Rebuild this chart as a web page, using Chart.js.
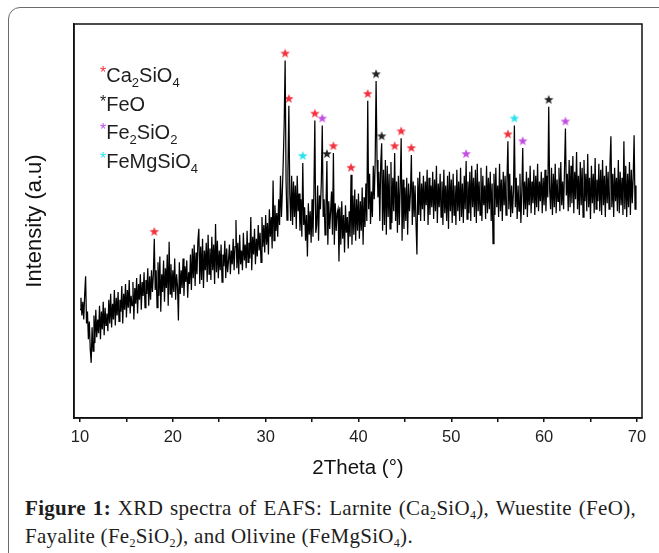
<!DOCTYPE html>
<html>
<head>
<meta charset="utf-8">
<script src="https://cdn.jsdelivr.net/npm/chart.js@4.4.1/dist/chart.umd.min.js"></script>
<style>
  html, body { margin: 0; padding: 0; background: #fff; }
  body { width: 659px; height: 553px; position: relative; overflow: hidden; }
  #frame { position: absolute; left: 8px; top: 7px; width: 670px; height: 620px; border: 1px solid #6b6b6b; border-radius: 12px; }
  #chart { position: absolute; left: 0; top: 0; }
  .legend { position: absolute; left: 100px; font-family: "Liberation Sans", Arial, sans-serif; font-size: 20px; line-height: 28.5px; color: #1e1e1e; white-space: nowrap; }
  .legend sub { font-size: 13px; line-height: 0; vertical-align: -5px; }
  .legend .st { font-size: 16px; vertical-align: 4px; }
  .caption { position: absolute; left: 25px; width: 611px; font-family: "Liberation Serif", "Times New Roman", serif; font-size: 21px; letter-spacing: 0.3px; line-height: 28px; color: #1e1e1e; white-space: nowrap; }
  .caption sub { font-size: 12px; line-height: 0; vertical-align: -4px; }
  #cap1 { top: 494px; text-align: justify; text-align-last: justify; }
  #cap2 { top: 522px; }
</style>
</head>
<body>
<div id="frame"></div>
<canvas id="chart" width="659" height="490"></canvas>

<div class="legend" style="top:59px"><span class="st" style="color:#f2333f">*</span>Ca<sub>2</sub>SiO<sub>4</sub></div>
<div class="legend" style="top:87.5px"><span class="st" style="color:#222">*</span>FeO</div>
<div class="legend" style="top:116px"><span class="st" style="color:#c24fe0">*</span>Fe<sub>2</sub>SiO<sub>2</sub></div>
<div class="legend" style="top:144.5px"><span class="st" style="color:#2fe3ee">*</span>FeMgSiO<sub>4</sub></div>

<div class="caption" id="cap1"><b>Figure 1:</b> XRD spectra of EAFS: Larnite (Ca<sub>2</sub>SiO<sub>4</sub>), Wuestite (FeO),</div>
<div class="caption" id="cap2">Fayalite (Fe<sub>2</sub>SiO<sub>2</sub>), and Olivine (FeMgSiO<sub>4</sub>).</div>

<script>
// intensity (a.u. ~ pixels), 0.1 deg steps, one row per degree
const STEP = 0.1;
const i10 = [110, 122, 104, 118, 100, 125, 144, 96, 108, 80,
             98, 70, 56, 92, 68, 104, 76, 110, 82, 100,
             86, 114, 80, 108, 90, 118, 84, 112, 94, 106,
             88, 120, 96, 126, 92, 116, 100, 130, 94, 122,
             104, 128, 98, 120, 108, 134, 96, 126, 110, 136,
             102, 130, 112, 140, 106, 124, 114, 138, 100, 132,
             116, 142, 106, 136, 120, 146, 110, 138, 124, 148,
             112, 140, 126, 152, 114, 144, 120, 150, 128, 146,
             182, 130, 150, 112, 158, 124, 164, 108, 146, 128,
             160, 118, 152, 132, 166, 114, 179, 126, 156, 122];
const i20 = [150, 128, 162, 120, 146, 134, 99, 158, 126, 150,
             132, 162, 124, 154, 138, 160, 122, 148, 136, 166,
             130, 172, 142, 176, 134, 168, 146, 180, 192, 136,
             174, 140, 182, 132, 170, 150, 178, 138, 186, 146,
             172, 140, 184, 150, 176, 136, 197, 148, 180, 142,
             170, 150, 176, 138, 166, 154, 180, 142, 172, 148,
             160, 176, 146, 170, 156, 182, 150, 174, 201, 152,
             178, 146, 186, 156, 170, 150, 188, 160, 176, 152,
             190, 158, 178, 162, 204, 150, 184, 166, 192, 156,
             182, 164, 196, 170, 188, 158, 204, 174, 196, 168];
const i30 = [206, 176, 198, 166, 212, 184, 204, 172, 241, 180,
             216, 190, 208, 184, 222, 196, 246, 204, 230, 262,
             300, 363, 240, 201, 250, 317, 228, 200, 246, 196,
             240, 204, 236, 192, 246, 210, 228, 190, 222, 184,
             259, 196, 214, 180, 206, 164, 218, 186, 210, 178,
             222, 184, 230, 302, 188, 196, 236, 180, 226, 212,
             240, 297, 204, 222, 186, 214, 261, 176, 220, 192,
             210, 230, 186, 269, 176, 218, 190, 208, 212, 159,
             214, 176, 220, 182, 206, 168, 216, 188, 204, 172,
             210, 184, 247, 176, 226, 186, 232, 180, 222, 190];
const i40 = [228, 182, 220, 190, 234, 176, 224, 194, 238, 200,
             322, 212, 248, 197, 230, 204, 256, 222, 260, 342,
             262, 224, 250, 200, 258, 279, 190, 252, 196, 262,
             186, 256, 204, 248, 192, 260, 198, 244, 210, 269,
             200, 240, 188, 246, 196, 236, 284, 180, 242, 192,
             234, 200, 244, 186, 238, 210, 228, 267, 196, 240,
             204, 236, 198, 166, 244, 206, 250, 200, 238, 212,
             246, 200, 240, 216, 252, 196, 244, 206, 236, 214,
             250, 202, 242, 210, 256, 198, 238, 214, 248, 204,
             240, 196, 252, 208, 236, 200, 246, 192, 250, 210];
const i50 = [242, 198, 248, 206, 236, 196, 252, 210, 240, 200,
             254, 204, 238, 198, 246, 212, 261, 202, 240, 208,
             250, 200, 256, 214, 244, 204, 252, 198, 258, 210,
             240, 206, 254, 200, 246, 216, 236, 202, 256, 208,
             244, 212, 250, 200, 238, 177, 248, 206, 254, 214,
             236, 204, 258, 210, 242, 200, 250, 216, 246, 206,
             240, 281, 212, 248, 204, 236, 208, 230, 297, 214,
             244, 202, 236, 210, 248, 198, 230, 274, 206, 240,
             212, 250, 204, 244, 216, 256, 208, 240, 218, 252,
             206, 246, 214, 258, 210, 240, 220, 250, 208, 244];
const i60 = [216, 252, 210, 246, 224, 316, 232, 212, 254, 206,
             248, 214, 258, 208, 242, 220, 254, 210, 260, 216,
             240, 212, 252, 294, 226, 248, 210, 262, 214, 256,
             218, 266, 208, 250, 222, 270, 212, 246, 206, 260,
             216, 254, 204, 262, 220, 248, 210, 268, 214, 244,
             202, 256, 218, 248, 208, 264, 212, 242, 220, 258,
             210, 252, 206, 262, 216, 246, 204, 256, 218, 250,
             212, 258, 286, 214, 248, 204, 254, 220, 244, 210,
             262, 208, 250, 216, 244, 206, 281, 212, 256, 204,
             248, 214, 260, 206, 252, 218, 244, 287, 212, 236];

// peak positions (2theta) marked with stars
const larnite = [18.0, 32.1, 32.5, 35.3, 37.3, 39.2, 41.0, 43.9, 44.6, 45.7, 56.1];
const wuestite = [36.6, 41.9, 42.5, 60.5];
const fayalite = [36.1, 51.6, 57.7, 62.3];
const olivine = [34.0, 56.8];

const spectrum = [];
[[10, i10], [20, i20], [30, i30], [40, i40], [50, i50], [60, i60]].forEach(([start, arr]) => {
  arr.forEach((v, k) => spectrum.push({x: +(start + k * STEP).toFixed(1), y: v}));
});

function valueAt(a) {
  const p = spectrum.find(d => Math.abs(d.x - a) < 0.03);
  return p ? p.y : 0;
}
function starPts(list) {
  return list.map(a => ({x: a, y: valueAt(a) + 7}));
}

function starImg(color) {
  const c = document.createElement('canvas');
  c.width = c.height = 12;
  const g = c.getContext('2d');
  g.fillStyle = color;
  g.beginPath();
  for (let k = 0; k < 10; k++) {
    const r = k % 2 ? 2.1 : 5;
    const ang = -Math.PI / 2 + k * Math.PI / 5;
    g.lineTo(6 + r * Math.cos(ang), 6 + r * Math.sin(ang));
  }
  g.closePath();
  g.fill();
  return c;
}

function starSet(list, color) {
  return {
    type: 'scatter',
    data: starPts(list),
    pointStyle: starImg(color),
    pointRadius: 5,
    showLine: false
  };
}

const frame = {
  id: 'frame',
  afterDraw(chart) {
    const {ctx, chartArea: a} = chart;
    ctx.save();
    ctx.strokeStyle = '#111';
    ctx.lineWidth = 1.5;
    ctx.strokeRect(a.left, a.top, a.right - a.left, a.bottom - a.top);
    ctx.restore();
  }
};

Chart.defaults.font.family = '"Liberation Sans", Arial, sans-serif';
Chart.defaults.color = '#1e1e1e';

new Chart(document.getElementById('chart'), {
  type: 'line',
  data: {
    datasets: [
      {
        data: spectrum,
        borderColor: '#000',
        borderWidth: 1.25,
        pointRadius: 0,
        tension: 0,
        fill: false
      },
      starSet(larnite, '#f2333f'),
      starSet(wuestite, '#222222'),
      starSet(fayalite, '#c24fe0'),
      starSet(olivine, '#2fe3ee')
    ]
  },
  options: {
    responsive: false,
    animation: false,
    plugins: {
      legend: {display: false},
      tooltip: {enabled: false}
    },
    layout: {padding: {left: 20, top: 24, right: 17, bottom: 5.6}},
    scales: {
      x: {
        type: 'linear',
        min: 9.35,
        max: 70.55,
        ticks: {
          stepSize: 5,
          includeBounds: false,
          autoSkip: false,
          maxRotation: 0,
          padding: 6,
          font: {size: 16.5},
          color: '#222',
          callback: v => (v % 10 === 0 ? v : '')
        },
        grid: {display: true, drawOnChartArea: false, drawTicks: true, tickLength: 4, color: '#111', lineWidth: 1.5},
        border: {display: true, color: '#111', width: 1.5},
        title: {display: true, text: '2Theta (°)', font: {size: 20.5}, color: '#111', padding: {top: 2, bottom: 4}}
      },
      y: {
        min: 0,
        max: 400,
        ticks: {display: false},
        grid: {display: false, drawTicks: false},
        border: {display: true, color: '#111', width: 1.5},
        title: {display: true, text: 'Intensity (a.u)', font: {size: 22}, color: '#111', padding: {top: 2, bottom: 25.6}}
      }
    }
  },
  plugins: [frame]
});
</script>
</body>
</html>
